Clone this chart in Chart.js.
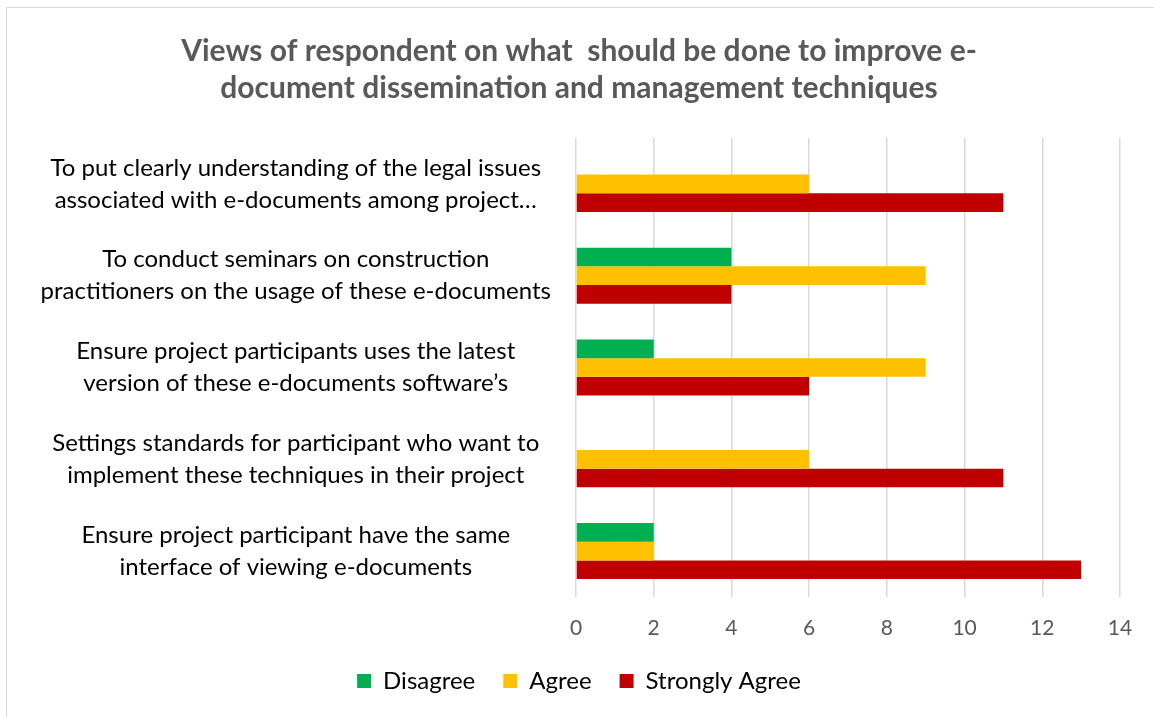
<!DOCTYPE html>
<html>
<head>
<meta charset="utf-8">
<script src="https://cdn.jsdelivr.net/npm/chart.js@4"></script>
<style>
  body { margin: 0; overflow: hidden; background: #fff; }
  #frame { position: absolute; left: 6px; top: 7px; width: 1300px; height: 800px; border: 1px solid #d9d9d9; }
  #wrap { position: absolute; left: 0; top: 0; width: 1154px; height: 720px; }
</style>
</head>
<body>
<div id="frame"></div>
<div id="wrap"><canvas id="chart"></canvas></div>
<script>
var categories = [
  ["To put clearly understanding of the legal issues", "associated with e-documents among project…"],
  ["To conduct seminars on construction", "practitioners on the usage of these e-documents"],
  ["Ensure project participants uses the latest", "version of these e-documents software’s"],
  ["Settings standards for participant who want to", "implement these techniques in their project"],
  ["Ensure project participant have the same", "interface of viewing e-documents"]
];
var disagree = [0, 4, 2, 0, 2];
var agree = [6, 9, 9, 6, 2];
var stronglyAgree = [11, 4, 6, 11, 13];
var xTicks = [0, 2, 4, 6, 8, 10, 12, 14];

var fontName = "Lato, 'Open Sans', sans-serif";

var ctx = document.getElementById("chart");

new Chart(ctx, {
    type: 'bar',
    data: {
        labels: categories,
        datasets: [
            { label: 'Disagree', data: disagree, backgroundColor: '#00B050' },
            { label: 'Agree', data: agree, backgroundColor: '#FFC000' },
            { label: 'Strongly Agree', data: stronglyAgree, backgroundColor: '#C00000' }
        ]
    },
    options: {
        indexAxis: 'y',
        responsive: true,
        maintainAspectRatio: false,
        animation: false,
        categoryPercentage: 0.61,
        barPercentage: 1,
        layout: { padding: { left: 38, right: 34, top: 0, bottom: 17 } },
        plugins: {
            title: {
                display: true,
                text: ["Views of respondent on what  should be done to improve e-",
                       "document dissemination and management techniques"],
                color: '#595959',
                font: { family: fontName, size: 30, weight: 'bold', lineHeight: 1.233 },
                padding: { top: 33, bottom: 31 }
            },
            legend: {
                position: 'bottom',
                labels: {
                    color: '#000',
                    font: { family: fontName, size: 24 },
                    boxWidth: 14,
                    boxHeight: 14,
                    padding: 28
                }
            },
            tooltip: { enabled: false }
        },
        scales: {
            x: {
                min: 0,
                max: 14,
                afterBuildTicks: function (scale) {
                    scale.ticks = xTicks.map(function (v) { return { value: v }; });
                },
                afterFit: function (scale) { scale.height = 44; },
                grid: { color: '#d9d9d9', lineWidth: 1.5, drawTicks: false },
                border: { display: false },
                ticks: { color: '#595959', font: { family: fontName, size: 21 }, padding: 19 }
            },
            y: {
                grid: { display: false, drawTicks: false },
                border: { display: false },
                afterFit: function (scale) { scale.width = 538; },
                ticks: {
                    color: '#000',
                    crossAlign: 'center',
                    font: { family: fontName, size: 24, lineHeight: 1.33 },
                    padding: 25
                }
            }
        }
    }
});
</script>
</body>
</html>
